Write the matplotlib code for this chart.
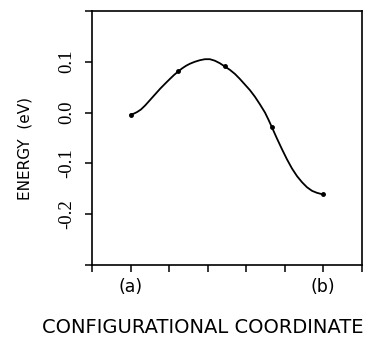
import numpy as np
import matplotlib
matplotlib.use("Agg")
import matplotlib.pyplot as plt

# computed points along the path
coord_pts = [1.0, 2.24, 3.44, 4.67, 5.99]
energy_pts = [-0.004, 0.081, 0.091, -0.029, -0.161]

# smooth curve drawn through them
coord_curve = [1.0, 1.09, 1.17, 1.27, 1.38, 1.51, 1.64, 1.77, 1.90, 2.02,
               2.13, 2.24, 2.34, 2.44, 2.54, 2.67, 2.80, 2.93, 3.06, 3.19,
               3.32, 3.44, 3.58, 3.71, 3.84, 3.97, 4.10, 4.23, 4.36, 4.49,
               4.58, 4.67, 4.80, 4.93, 5.06, 5.19, 5.32, 5.45, 5.58, 5.71,
               5.84, 5.99]
energy_curve = [-0.004, -0.002, 0.001, 0.006, 0.014, 0.025, 0.036, 0.047,
                0.057, 0.066, 0.074, 0.081, 0.087, 0.092, 0.096, 0.100, 0.103,
                0.105, 0.105, 0.102, 0.097, 0.091, 0.084, 0.076, 0.066, 0.055,
                0.044, 0.031, 0.016, 0.000, -0.014, -0.029, -0.051, -0.072,
                -0.092, -0.110, -0.125, -0.137, -0.147, -0.154, -0.158, -0.161]

x_ticks = [0, 1, 2, 3, 4, 5, 6, 7]
x_labels = ['', '(a)', '', '', '', '', '(b)', '']
y_ticks = [-0.3, -0.2, -0.1, 0.0, 0.1, 0.2]
y_labels = ['', '-0.2', '-0.1', '0.0', '0.1', '']

fig = plt.figure(figsize=(3.65, 3.37), dpi=100)
ax = fig.add_axes([0.252, 0.2136, 0.739, 0.754])

ax.plot(coord_curve, energy_curve, color='black', linewidth=1.3,
        solid_joinstyle='round')
ax.plot(coord_pts, energy_pts, 'o', color='black', markersize=2.5)

ax.set_xlim(0, 7)
ax.set_ylim(-0.3, 0.2)

ax.set_xticks(x_ticks)
ax.set_xticklabels(x_labels, family='DejaVu Sans', fontsize=12.5)
ax.set_yticks(y_ticks)
ax.set_yticklabels(y_labels, family='Liberation Serif', fontsize=13.5,
                   rotation=90, va='center')

ax.tick_params(direction='out', length=5, width=1.1, color='black')
ax.tick_params(axis='y', pad=7)
ax.tick_params(axis='x', pad=4)
for s in ax.spines.values():
    s.set_linewidth(1.2)

ax.set_ylabel('ENERGY  (eV)', family='DejaVu Sans', fontsize=11)
ax.yaxis.set_label_coords(-0.22, 0.46)
ax.set_xlabel('CONFIGURATIONAL COORDINATE', family='DejaVu Sans', fontsize=14)
ax.xaxis.set_label_coords(0.41, -0.21)

fig.savefig('out.png', dpi=100)
